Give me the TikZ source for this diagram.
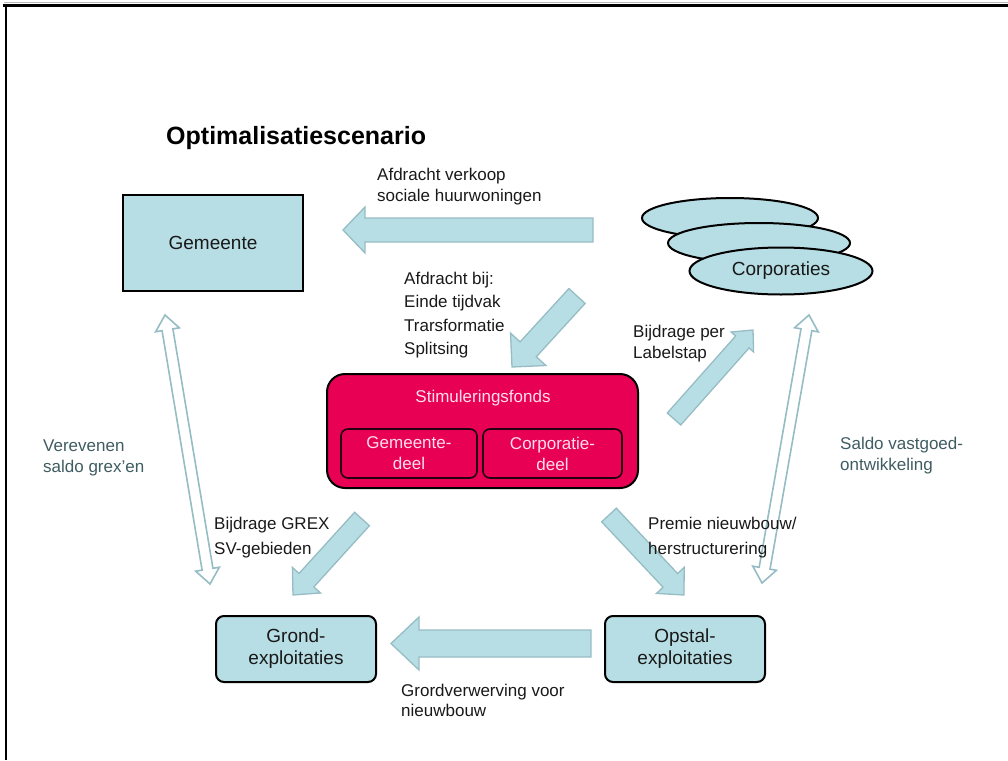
\documentclass[tikz,border=0pt]{standalone}
\usepackage{fontspec}
\setmainfont{Liberation Sans}
\usetikzlibrary{calc,shapes.geometric}

\definecolor{paleblue}{RGB}{183,222,228}
\definecolor{arrowedge}{RGB}{150,188,196}
\definecolor{fondspink}{RGB}{232,0,84}
\definecolor{fondstext}{RGB}{255,222,234}
\definecolor{slatetext}{RGB}{62,92,98}
\definecolor{labeltext}{RGB}{25,25,25}

\tikzset{
  box/.style={draw=black, line width=2pt, fill=paleblue, text=labeltext,
    font=\fontsize{19}{22}\selectfont, align=center, inner sep=0pt},
  roundbox/.style={box, rounded corners=8pt},
  corp/.style={ellipse, draw=black, line width=2pt, fill=paleblue, inner sep=0pt,
    text=labeltext, font=\fontsize{19}{22}\selectfont},
  fonds/.style={draw=black, line width=2pt, fill=fondspink, rounded corners=18pt, inner sep=0pt},
  part/.style={draw=black!85!fondspink, line width=1.6pt, fill=fondspink, rounded corners=7pt,
    text=fondstext, font=\fontsize{17}{21}\selectfont, align=center, inner sep=0pt},
  lbl/.style={anchor=west, align=left, inner sep=0pt, text=labeltext,
    font=\fontsize{17}{21}\selectfont},
  slate/.style={lbl, text=slatetext},
  barrow/.style={draw=arrowedge, line width=1.3pt, fill=paleblue, line join=miter},
  darrow/.style={draw=arrowedge, line width=1.6pt, fill=white, line join=miter},
}

% block arrow: tail, tip, half shaft width, half head width, head length
\newcommand\flowarrow[5]{%
  \coordinate (fa-neck) at ($(#2)!#5!(#1)$);
  \draw[barrow] ($(#1)!#3!90:(#2)$) -- ($(fa-neck)!#3!90:(#2)$)
    -- ($(fa-neck)!#4!90:(#2)$) -- (#2) -- ($(fa-neck)!#4!-90:(#2)$)
    -- ($(fa-neck)!#3!-90:(#2)$) -- ($(#1)!#3!-90:(#2)$) -- cycle;
}
% outlined two-way arrow: tip, tip, half shaft width, half head width, head length
\newcommand\swaparrow[5]{%
  \coordinate (sa-necka) at ($(#1)!#5!(#2)$);
  \coordinate (sa-neckb) at ($(#2)!#5!(#1)$);
  \draw[darrow] (#1) -- ($(sa-necka)!#4!90:(#2)$) -- ($(sa-necka)!#3!90:(#2)$)
    -- ($(sa-neckb)!#3!90:(#2)$) -- ($(sa-neckb)!#4!90:(#2)$) -- (#2)
    -- ($(sa-neckb)!#4!-90:(#2)$) -- ($(sa-neckb)!#3!-90:(#2)$)
    -- ($(sa-necka)!#3!-90:(#2)$) -- ($(sa-necka)!#4!-90:(#2)$) -- cycle;
}

\begin{document}
\begin{tikzpicture}[x=1pt, y=-1pt]
  \useasboundingbox (0,0) rectangle (1008,760);

  % page frame
  \draw[gray!55, line width=0.8pt] (4,2.5) -- (1008,2.5);
  \draw[black, line width=2.4pt] (3,5.5) -- (1008,5.5);
  \draw[black, line width=2.3pt] (6.2,4.5) -- (6.2,760);

  % title
  \node[anchor=west, inner sep=0pt, font=\fontsize{25}{30}\selectfont\bfseries] (title)
    at (166,138) {Optimalisatiescenario};

  % arrow end points
  \coordinate (verkoop-s) at (593,230);
  \coordinate (verkoop-e) at (343,230);
  \coordinate (afdracht-s) at (577,296);
  \coordinate (afdracht-e) at (512,367);
  \coordinate (label-s) at (674,419);
  \coordinate (label-e) at (753,330);
  \coordinate (grex-s) at (362,519);
  \coordinate (grex-e) at (293,595);
  \coordinate (premie-s) at (609,515);
  \coordinate (premie-e) at (684,595);
  \coordinate (grond-s) at (591,643.5);
  \coordinate (grond-e) at (391,643.5);
  \coordinate (vereven-a) at (165,315);
  \coordinate (vereven-b) at (210,584);
  \coordinate (saldo-a) at (809,315);
  \coordinate (saldo-b) at (762,583);

  % flows
  \flowarrow{verkoop-s}{verkoop-e}{12pt}{23pt}{22pt}
  \flowarrow{afdracht-s}{afdracht-e}{11pt}{24pt}{24pt}
  \flowarrow{label-s}{label-e}{9pt}{15pt}{16pt}
  \flowarrow{grex-s}{grex-e}{10pt}{19pt}{20pt}
  \flowarrow{premie-s}{premie-e}{10pt}{19pt}{20pt}
  \flowarrow{grond-s}{grond-e}{13.5pt}{26.5pt}{28pt}
  \swaparrow{vereven-a}{vereven-b}{5.5pt}{12pt}{15pt}
  \swaparrow{saldo-a}{saldo-b}{5.5pt}{12pt}{15pt}

  % actors
  \node[box, minimum width=180pt, minimum height=96pt] (gemeente) at (213,243) {Gemeente};
  \node[corp, minimum width=176pt, minimum height=40pt] (corpA) at (730,218) {};
  \node[corp, minimum width=182pt, minimum height=40pt] (corpB) at (759,243) {};
  \node[corp, minimum width=183pt, minimum height=47pt] (corpC) at (781,271) {Corporaties};

  % fund
  \node[fonds, minimum width=311pt, minimum height=114pt] (fonds) at (482.5,431) {};
  \node[inner sep=0pt, text=fondstext, font=\fontsize{17}{21}\selectfont] (fondsname)
    at (483,398) {Stimuleringsfonds};
  \node[part, minimum width=136pt, minimum height=49pt] (fondsgem) at (409,453.5)
    {Gemeente-\\deel};
  \node[part, minimum width=139pt, minimum height=49pt] (fondscorp) at (552.5,453.5)
    {Corporatie-\\deel};

  % exploitations
  \node[roundbox, minimum width=160pt, minimum height=66pt] (grond) at (296,649)
    {Grond-\\exploitaties};
  \node[roundbox, minimum width=160pt, minimum height=66pt] (opstal) at (685,649)
    {Opstal-\\exploitaties};

  % flow labels
  \node[lbl] (l-verkoop) at (377,186.5) {Afdracht verkoop\\sociale huurwoningen};
  \node[lbl, font=\fontsize{17}{23.5}\selectfont] (l-afdracht) at (404,315)
    {Afdracht bij:\\Einde tijdvak\\Trarsformatie\\Splitsing};
  \node[lbl] (l-label) at (633,344) {Bijdrage per\\Labelstap};
  \node[slate] (l-vereven) at (43,457.5) {Verevenen\\saldo grex'en};
  \node[slate] (l-saldo) at (840,456) {Saldo vastgoed-\\ontwikkeling};
  \node[lbl, font=\fontsize{17}{25}\selectfont] (l-grex) at (214,537.5)
    {Bijdrage GREX\\SV-gebieden};
  \node[lbl, font=\fontsize{17}{25}\selectfont] (l-premie) at (648,537.5)
    {Premie nieuwbouw/\\herstructurering};
  \node[lbl, font=\fontsize{17}{20}\selectfont] (l-grond) at (401,700)
    {Grordverwerving voor\\nieuwbouw};
\end{tikzpicture}
\end{document}
